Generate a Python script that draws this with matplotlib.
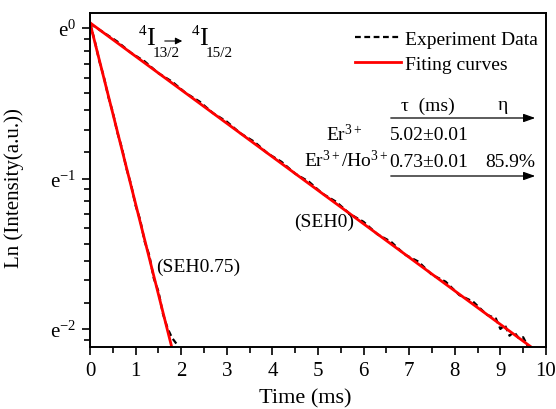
import numpy as np
import matplotlib
matplotlib.use('Agg')
import matplotlib.pyplot as plt
from matplotlib.ticker import FixedLocator, FixedFormatter, MultipleLocator

plt.rcParams['font.family'] = ['Liberation Serif', 'DejaVu Serif']
plt.rcParams['mathtext.fontset'] = 'custom'
plt.rcParams['mathtext.rm'] = 'Liberation Serif'
plt.rcParams['mathtext.it'] = 'Liberation Serif:italic'
plt.rcParams['mathtext.default'] = 'regular'

# experiment data, ln(intensity)
slow_t = [0.0, 0.3, 0.6, 0.9, 1.2, 1.5, 1.8, 2.1, 2.4, 2.7, 3.0, 3.3, 3.6, 3.9,
          4.2, 4.5, 4.8, 5.1, 5.4, 5.7, 6.0, 6.3, 6.6, 6.9, 7.2, 7.5, 7.8, 8.1,
          8.4, 8.7, 8.9, 9.0, 9.1, 9.2, 9.3, 9.4, 9.5, 9.6, 9.65]
slow_ln = [0.03, -0.030, -0.090, -0.165, -0.222, -0.300, -0.356, -0.432, -0.488,
           -0.566, -0.622, -0.700, -0.755, -0.834, -0.889, -0.968, -1.021, -1.101,
           -1.155, -1.236, -1.288, -1.370, -1.420, -1.505, -1.552, -1.640, -1.686,
           -1.775, -1.818, -1.905, -1.930, -2.000, -1.975, -2.045, -2.020, -2.060,
           -2.055, -2.115, -2.130]

fast_t = [0.0, 0.1, 0.2, 0.3, 0.4, 0.5, 0.6, 0.7, 0.8, 0.9, 1.0, 1.1, 1.2, 1.3,
          1.4, 1.5, 1.6, 1.7, 1.8, 1.9, 1.95]
fast_ln = [0.03, -0.080, -0.215, -0.320, -0.455, -0.560, -0.695, -0.798, -0.935,
           -1.040, -1.180, -1.275, -1.420, -1.510, -1.665, -1.750, -1.900, -1.995,
           -2.060, -2.100, -2.140]

# fitted straight lines (ln scale)
fit_slow_t = [0.0, 9.72]
fit_slow_ln = [0.035, -2.13]
fit_fast_t = [0.0, 1.80]
fit_fast_ln = [0.033, -2.13]

ytick_pos = [0, -1, -2]
ytick_labels = [r'e$^{0}$', r'e$^{-1}$', r'e$^{-2}$']

fig = plt.figure(figsize=(5.56, 4.10), dpi=100)
ax = fig.add_axes([0.1619, 0.1512, 0.8201, 0.8146])


def px(x, y):
    # pixel position in the 556x410 picture -> figure fraction
    return x / 556, 1 - y / 410


dash = (0, (2.6, 1.6))
ax.plot(slow_t, np.exp(slow_ln), color='black', ls=dash, lw=1.6, label='Experiment Data')
ax.plot(fast_t, np.exp(fast_ln), color='black', ls=dash, lw=1.6)
ax.plot(fit_slow_t, np.exp(fit_slow_ln), color='red', lw=2, label='Fiting curves')
ax.plot(fit_fast_t, np.exp(fit_fast_ln), color='red', lw=2)

ax.set_yscale('log', base=np.e)
ax.set_xlim(0, 10)
ax.set_ylim(np.exp(-2.12), np.exp(0.1))

ax.yaxis.set_major_locator(FixedLocator(np.exp(ytick_pos)))
ax.yaxis.set_major_formatter(FixedFormatter(ytick_labels))
minor = []
for lo in [-3, -2, -1]:
    a, b = np.exp(lo), np.exp(lo + 1)
    minor.extend(np.linspace(a, b, 10)[1:-1])
ax.yaxis.set_minor_locator(FixedLocator(minor))
ax.yaxis.set_minor_formatter(FixedFormatter([''] * len(minor)))

ax.xaxis.set_major_locator(MultipleLocator(1))
ax.xaxis.set_minor_locator(MultipleLocator(0.5))

ax.tick_params(which='both', direction='out', width=1.2, labelsize=15, top=False, right=False)
ax.tick_params(which='major', length=6, pad=4)
ax.tick_params(which='minor', length=4)
for s in ax.spines.values():
    s.set_linewidth(1.4)

ax.set_xlabel('Time (ms)', fontsize=16)
ax.set_ylabel('Ln (Intensity(a.u.))', fontsize=15)
ax.xaxis.set_label_coords(0.471, -0.123)
ax.yaxis.set_label_coords(-0.145, 0.479)

ax.legend(loc='upper right', bbox_to_anchor=(1.0, 0.971), frameon=False, fontsize=14,
          handlelength=2.4, handletextpad=0.2, labelspacing=0.35, borderaxespad=0.1,
          borderpad=0.3)

# transition label, built piece by piece
for x0 in [140, 193]:
    sub = '13/2' if x0 == 140 else '15/2'
    fig.text(*px(x0 - 1, 35), '4', fontsize=11, va='baseline')
    fig.text(*px(x0 + 6, 45), 'I', fontsize=19, va='baseline')
    fig.text(*px(x0 + 13, 57), sub, fontsize=11, va='baseline')
fig.patches.append(matplotlib.patches.FancyArrowPatch(
    px(162, 42), px(185, 42), transform=fig.transFigure, color='black', lw=0.8,
    arrowstyle='-|>,head_length=4,head_width=2'))

# small table
kw = dict(fontsize=14, ha='center', va='center')
fig.text(*px(428, 106), 'τ  (ms)', **kw)
fig.text(*px(503, 106), 'η', **kw)
for y in [119, 177]:
    fig.patches.append(matplotlib.patches.FancyArrowPatch(
        px(388, y), px(538, y), transform=fig.transFigure, color='black', lw=0.9,
        arrowstyle='-|>,head_length=7,head_width=2.5'))
fig.text(*px(344, 134), r'Er$^{3+}$', **kw)
fig.text(*px(429, 136), '5.02±0.01', **kw)
fig.text(*px(346, 161), r'Er$^{3+}$/Ho$^{3+}$', **kw)
fig.text(*px(429, 163), '0.73±0.01', **kw)
fig.text(*px(510, 163), '85.9%', **kw)

fig.text(*px(324, 222), '(SEH0)', **kw)
fig.text(*px(198, 267), '(SEH0.75)', **kw)

fig.savefig('out.png', dpi=100)
